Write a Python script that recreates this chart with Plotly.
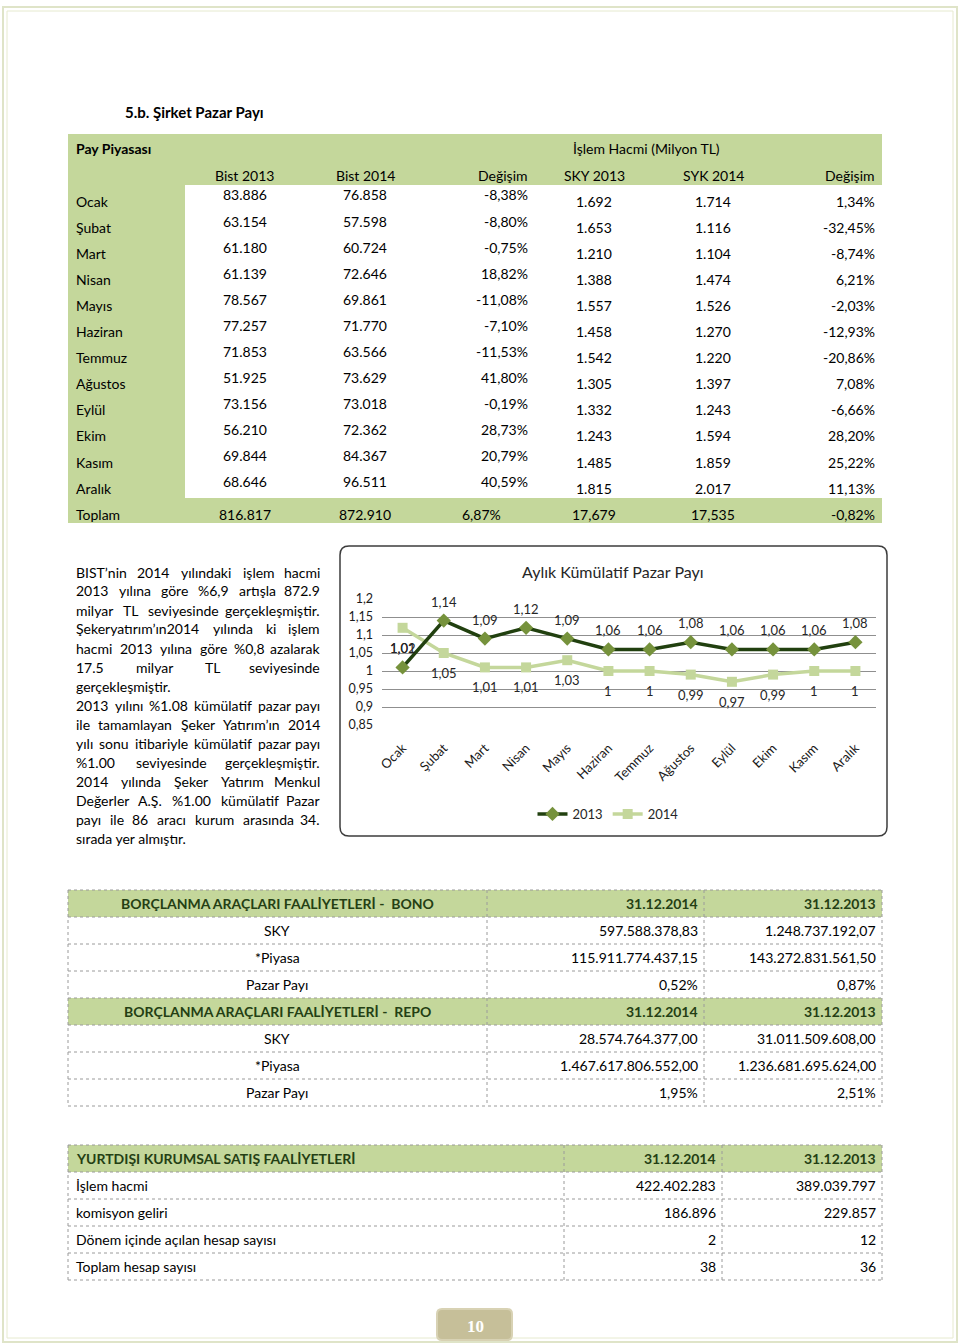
import plotly.graph_objects as go

W, H = 960, 1344
def px(x): return x / W
def py(y): return 1 - y / H

GREEN = "#c4d79b"
DKGREEN = "#243f14"
FONT = "Lato"

# ---------------- data: main table ----------------
months = ["Ocak", "Şubat", "Mart", "Nisan", "Mayıs", "Haziran", "Temmuz",
          "Ağustos", "Eylül", "Ekim", "Kasım", "Aralık"]
bist_2013 = ["83.886", "63.154", "61.180", "61.139", "78.567", "77.257", "71.853",
             "51.925", "73.156", "56.210", "69.844", "68.646"]
bist_2014 = ["76.858", "57.598", "60.724", "72.646", "69.861", "71.770", "63.566",
             "73.629", "73.018", "72.362", "84.367", "96.511"]
bist_change = ["-8,38%", "-8,80%", "-0,75%", "18,82%", "-11,08%", "-7,10%", "-11,53%",
               "41,80%", "-0,19%", "28,73%", "20,79%", "40,59%"]
sky_2013 = ["1.692", "1.653", "1.210", "1.388", "1.557", "1.458", "1.542",
            "1.305", "1.332", "1.243", "1.485", "1.815"]
syk_2014 = ["1.714", "1.116", "1.104", "1.474", "1.526", "1.270", "1.220",
            "1.397", "1.243", "1.594", "1.859", "2.017"]
sky_change = ["1,34%", "-32,45%", "-8,74%", "6,21%", "-2,03%", "-12,93%", "-20,86%",
              "7,08%", "-6,66%", "28,20%", "25,22%", "11,13%"]
totals = ["816.817", "872.910", "6,87%", "17,679", "17,535", "-0,82%"]

# ---------------- data: chart ----------------
share_2013 = [1.01, 1.14, 1.09, 1.12, 1.09, 1.06, 1.06, 1.08, 1.06, 1.06, 1.06, 1.08]
share_2014 = [1.12, 1.05, 1.01, 1.01, 1.03, 1.00, 1.00, 0.99, 0.97, 0.99, 1.00, 1.00]
labels_2013 = ["1,01", "1,14", "1,09", "1,12", "1,09", "1,06", "1,06", "1,08", "1,06", "1,06", "1,06", "1,08"]
labels_2014 = ["1,02", "1,05", "1,01", "1,01", "1,03", "1", "1", "0,99", "0,97", "0,99", "1", "1"]

# ---------------- data: lower tables ----------------
bono_rows = ["SKY", "*Piyasa", "Pazar Payı"]
bono_2014 = ["597.588.378,83", "115.911.774.437,15", "0,52%"]
bono_2013 = ["1.248.737.192,07", "143.272.831.561,50", "0,87%"]
repo_rows = ["SKY", "*Piyasa", "Pazar Payı"]
repo_2014 = ["28.574.764.377,00", "1.467.617.806.552,00", "1,95%"]
repo_2013 = ["31.011.509.608,00", "1.236.681.695.624,00", "2,51%"]
yd_rows = ["İşlem hacmi", "komisyon geliri", "Dönem içinde açılan hesap sayısı", "Toplam hesap sayısı"]
yd_2014 = ["422.402.283", "186.896", "2", "38"]
yd_2013 = ["389.039.797", "229.857", "12", "36"]

text_lines = [
    ("BIST’nin 2014 yılındaki işlem hacmi", True),
    ("2013 yılına göre %6,9 artışla 872.9", True),
    ("milyar TL seviyesinde gerçekleşmiştir.", True),
    ("Şekeryatırım’ın2014 yılında ki işlem", True),
    ("hacmi 2013 yılına göre %0,8 azalarak", True),
    ("17.5 milyar TL seviyesinde", True),
    ("gerçekleşmiştir.", False),
    ("2013 yılını %1.08 kümülatif pazar payı", True),
    ("ile tamamlayan Şeker Yatırım’ın 2014", True),
    ("yılı sonu itibariyle kümülatif pazar payı", True),
    ("%1.00 seviyesinde gerçekleşmiştir.", True),
    ("2014 yılında Şeker Yatırım Menkul", True),
    ("Değerler A.Ş. %1.00 kümülatif Pazar", True),
    ("payı ile 86 aracı kurum arasında 34.", True),
    ("sırada yer almıştır.", False),
]

annotations = []
shapes = []

def txt(x, y, s, anchor="left", size=14, bold=False, color="#000000", family=FONT):
    annotations.append(dict(
        x=px(x), y=py(y), xref="paper", yref="paper",
        text=("<b>%s</b>" % s) if bold else s, showarrow=False,
        xanchor=anchor, yanchor="middle", borderpad=0,
        font=dict(family=family, size=size, color=color)))

def rect(x0, y0, x1, y1, fill=None, line=None, width=1, dash="solid"):
    shapes.append(dict(
        type="rect", xref="paper", yref="paper", layer="below",
        x0=px(x0), x1=px(x1), y0=py(y1), y1=py(y0),
        fillcolor=fill if fill else "rgba(0,0,0,0)",
        line=dict(color=line if line else "rgba(0,0,0,0)", width=width if line else 0, dash=dash)))

def hline(x0, x1, y, color="#9a9a9a", width=1, dash="dot"):
    shapes.append(dict(type="line", xref="paper", yref="paper", layer="above",
                       x0=px(x0), x1=px(x1), y0=py(y), y1=py(y),
                       line=dict(color=color, width=width, dash=dash)))

def vline(x, y0, y1, color="#9a9a9a", width=1, dash="dot"):
    shapes.append(dict(type="line", xref="paper", yref="paper", layer="above",
                       x0=px(x), x1=px(x), y0=py(y0), y1=py(y1),
                       line=dict(color=color, width=width, dash=dash)))

def rounded(x0, y0, x1, y1, r, fill=None, line="#404040", width=1.5, layer="below"):
    p = (f"M {px(x0+r)},{py(y0)} L {px(x1-r)},{py(y0)} Q {px(x1)},{py(y0)} {px(x1)},{py(y0+r)} "
         f"L {px(x1)},{py(y1-r)} Q {px(x1)},{py(y1)} {px(x1-r)},{py(y1)} "
         f"L {px(x0+r)},{py(y1)} Q {px(x0)},{py(y1)} {px(x0)},{py(y1-r)} "
         f"L {px(x0)},{py(y0+r)} Q {px(x0)},{py(y0)} {px(x0+r)},{py(y0)} Z")
    shapes.append(dict(type="path", xref="paper", yref="paper", path=p, layer=layer,
                       fillcolor=fill if fill else "rgba(0,0,0,0)",
                       line=dict(color=line, width=width)))

# ---------------- page frame ----------------
rect(3, 7, 957, 1342, line="#dfe4c8", width=2)
rect(7, 11, 953, 1338, line="#e6eacf", width=1)

# ---------------- title ----------------
txt(124, 112, "5.b. Şirket Pazar Payı", size=15, bold=True)

# ---------------- main table ----------------
rect(68, 134, 882, 185, fill=GREEN)
rect(68, 185, 185, 498, fill=GREEN)
rect(68, 498, 882, 523, fill=GREEN)

txt(75, 148, "Pay Piyasası", size=14, bold=True)
txt(646, 148, "İşlem Hacmi (Milyon TL)", anchor="center", size=14)
txt(245, 175, "Bist 2013", anchor="center")
txt(365, 175, "Bist 2014", anchor="center")
txt(529, 175, "Değişim", anchor="right")
txt(594, 175, "SKY 2013", anchor="center")
txt(713, 175, "SYK 2014", anchor="center")
txt(876, 175, "Değişim", anchor="right")

step = 26.05
for i, m in enumerate(months):
    yl = 201.5 + i * step
    yv = 195 + i * step
    txt(75, yl, m)
    txt(245, yv, bist_2013[i], anchor="center")
    txt(365, yv, bist_2014[i], anchor="center")
    txt(529, yv, bist_change[i], anchor="right")
    txt(594, yl, sky_2013[i], anchor="center")
    txt(713, yl, syk_2014[i], anchor="center")
    txt(876, yl, sky_change[i], anchor="right")

txt(75, 514, "Toplam")
txt(245, 514, totals[0], anchor="center")
txt(365, 514, totals[1], anchor="center")
txt(481, 514, totals[2], anchor="center")
txt(594, 514, totals[3], anchor="center")
txt(713, 514, totals[4], anchor="center")
txt(876, 514, totals[5], anchor="right")

# ---------------- justified paragraph ----------------
CW = {}
for c in "iılj'’|": CW[c] = 0.24
for c in ".,:;": CW[c] = 0.26
CW.update({"f": 0.32, "t": 0.34, "r": 0.35, "s": 0.42, "ş": 0.42, "z": 0.44, "c": 0.46, "ç": 0.46,
           "e": 0.52, "a": 0.50, "k": 0.50, "v": 0.50, "y": 0.50, "x": 0.48, "g": 0.50, "ğ": 0.50,
           "m": 0.84, "w": 0.76, "%": 0.78, "-": 0.35, "I": 0.27, "M": 0.84, "T": 0.55, "S": 0.52,
           "Ş": 0.52, "B": 0.62, "D": 0.70, "A": 0.66, "P": 0.59, "L": 0.49, "Y": 0.60, "K": 0.62})
for c in "bdhnopquü": CW[c] = 0.56
for c in "0123456789": CW[c] = 0.58

def wwidth(w, size):
    return sum(CW.get(c, 0.62 if c.isupper() else 0.52) for c in w) * size

FS = 14
XL, XR = 75, 321
for k, (line, just) in enumerate(text_lines):
    y = 572 + k * 19.0
    words = line.split(" ")
    if not just or len(words) < 2:
        txt(XL, y, line, size=FS)
        continue
    widths = [wwidth(w, FS) for w in words]
    gap = (XR - XL - sum(widths)) / (len(words) - 1)
    gap = max(gap, 0.22 * FS)
    xcur = XL
    for j, w in enumerate(words):
        if j == len(words) - 1:
            txt(XR, y, w, anchor="right", size=FS)
        else:
            txt(xcur, y, w, anchor="left", size=FS)
        xcur += widths[j] + gap

# ---------------- chart box ----------------
rounded(340, 546, 887, 836, 9, fill="white", line="#3c3c3c", width=1.5)
txt(613, 571, "Aylık Kümülatif Pazar Payı", anchor="center", size=16, color="#262626")

# ---------------- BONO / REPO table ----------------
bono_top = 890
rh = 27
rect(68, bono_top, 882, bono_top + rh, fill=GREEN)
rect(68, bono_top + 4 * rh, 882, bono_top + 5 * rh, fill=GREEN)
for r in range(9):
    hline(68, 882, bono_top + r * rh)
for xv in (68, 487, 704, 882):
    vline(xv, bono_top, bono_top + 8 * rh)

def bono_block(top, title, rows, v14, v13):
    yc = top + rh / 2
    txt(277, yc, title, anchor="center", size=14, bold=True, color=DKGREEN)
    txt(699, yc, "31.12.2014", anchor="right", size=14, bold=True, color=DKGREEN)
    txt(877, yc, "31.12.2013", anchor="right", size=14, bold=True, color=DKGREEN)
    for i, lab in enumerate(rows):
        yy = top + (i + 1) * rh + rh / 2
        txt(277, yy, lab, anchor="center")
        txt(699, yy, v14[i], anchor="right")
        txt(877, yy, v13[i], anchor="right")

bono_block(bono_top, "BORÇLANMA ARAÇLARI FAALİYETLERİ -  BONO", bono_rows, bono_2014, bono_2013)
bono_block(bono_top + 4 * rh, "BORÇLANMA ARAÇLARI FAALİYETLERİ -  REPO", repo_rows, repo_2014, repo_2013)

# ---------------- YURTDIŞI table ----------------
yd_top = 1145
rect(68, yd_top, 882, yd_top + rh, fill=GREEN)
for r in range(6):
    hline(68, 882, yd_top + r * rh)
for xv in (68, 564, 722, 882):
    vline(xv, yd_top, yd_top + 5 * rh)
txt(75, yd_top + rh / 2, "YURTDIŞI KURUMSAL SATIŞ FAALİYETLERİ", size=14, bold=True, color=DKGREEN)
txt(717, yd_top + rh / 2, "31.12.2014", anchor="right", size=14, bold=True, color=DKGREEN)
txt(877, yd_top + rh / 2, "31.12.2013", anchor="right", size=14, bold=True, color=DKGREEN)
for i, lab in enumerate(yd_rows):
    yy = yd_top + (i + 1) * rh + rh / 2
    txt(75, yy, lab)
    txt(717, yy, yd_2014[i], anchor="right")
    txt(877, yy, yd_2013[i], anchor="right")

# ---------------- page number ----------------
rounded(437, 1309, 512, 1340, 5, fill="#c6bf99", line="#d8d2b4", width=2, layer="below")
txt(475, 1326, "10", anchor="center", size=17, bold=True, color="white", family="Liberation Serif")

# ---------------- chart traces ----------------
fig = go.Figure()
fig.add_trace(go.Scatter(
    x=months, y=share_2014, name="2014", mode="lines+markers", legendrank=2,
    line=dict(color="#c4d79b", width=3.5),
    marker=dict(symbol="square", size=10, color="#c4d79b")))
fig.add_trace(go.Scatter(
    x=months, y=share_2013, name="2013", mode="lines+markers", legendrank=1,
    line=dict(color="#21400f", width=3.5),
    marker=dict(symbol="diamond", size=11, color="#76923c")))

for i, m in enumerate(months):
    annotations.append(dict(x=m, y=share_2013[i], xref="x", yref="y", text=labels_2013[i],
                            showarrow=False, yshift=19,
                            font=dict(family=FONT, size=13, color="#262626")))
    annotations.append(dict(x=m, y=share_2014[i], xref="x", yref="y", text=labels_2014[i],
                            showarrow=False, yshift=-20,
                            font=dict(family=FONT, size=13, color="#262626")))

fig.update_layout(
    width=W, height=H, margin=dict(l=0, r=0, t=0, b=0, pad=0), autosize=False,
    paper_bgcolor="white", plot_bgcolor="rgba(0,0,0,0)",
    separators=", ",
    font=dict(family=FONT, color="#262626"),
    xaxis=dict(domain=[px(382), px(876)], type="category", range=[-0.5, 11.5],
               tickangle=-45, showgrid=False, showline=False, zeroline=False, ticks="",
               automargin=False,
               ticklabelstandoff=12, tickfont=dict(family=FONT, size=13, color="#1a1a1a")),
    yaxis=dict(domain=[py(725), py(599)], range=[0.85, 1.2], tick0=0.85, dtick=0.05,
               showgrid=True, gridcolor="#8f8f8f", gridwidth=1, zeroline=False, showline=False,
               automargin=False, ticklabelstandoff=8,
               ticks="", tickfont=dict(family=FONT, size=12.5, color="#1a1a1a")),
    showlegend=True,
    legend=dict(orientation="h", x=px(608), y=py(814), xanchor="center", yanchor="middle",
                font=dict(family=FONT, size=13, color="#262626"), bgcolor="rgba(0,0,0,0)"),
    shapes=shapes, annotations=annotations,
)

fig.write_html("out.html", config={"displayModeBar": False},
               post_script="document.body.style.margin='0';document.body.style.overflow='hidden';")
